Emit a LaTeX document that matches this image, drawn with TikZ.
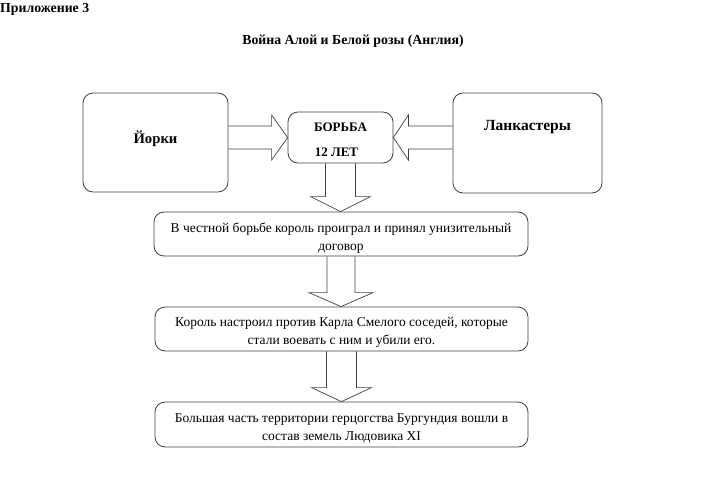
\documentclass[tikz,border=0pt]{standalone}
\usepackage{fontspec}
\setmainfont{Liberation Serif}
\usepackage{tikz}
\usetikzlibrary{calc}

\tikzset{
  box/.style={draw=black!75, line width=0.8pt, rounded corners=10pt, inner sep=0pt},
  blockarr/.style={draw=black!75, line width=0.7pt},
  txt/.style={align=center, font=\fontsize{13.5}{18}\selectfont},
  head/.style={font=\bfseries\fontsize{13.8}{16}\selectfont},
  big/.style={font=\bfseries\fontsize{15.5}{19}\selectfont}
}

\begin{document}
\begin{tikzpicture}[x=1pt,y=-1pt]
\useasboundingbox (0,0) rectangle (704,490);
\node[head, anchor=west, inner sep=0pt] (appx) at (0,9) {Приложение 3};
\node[head] (title) at (353,41) {Война Алой и Белой розы (Англия)};
\node[box, minimum width=145pt, minimum height=99pt] (yorki) at (155.5,142.5) {};
\node[box, minimum width=105pt, minimum height=51pt] (borba) at (340.5,137.5) {};
\node[box, minimum width=149pt, minimum height=100pt] (lanc) at (527.5,143) {};
\node[big, font=\bfseries\fontsize{14.7}{18}\selectfont] (yorkitxt) at (155.5,139) {Йорки};
\node[big] (lanctxt) at (527.5,127) {Ланкастеры};
\node[font=\bfseries\fontsize{13}{15}\selectfont] (borbatxt) at (340.5,127) {БОРЬБА};
\begin{scope}
\clip (290,140) rectangle (391,156.5);
\node[font=\bfseries\fontsize{13}{15}\selectfont] (yearstxt) at (336.5,152.5) {12 ЛЕТ};
\end{scope}
\node[box, minimum width=374pt, minimum height=44pt] (stepa) at (341,234) {};
\node[box, minimum width=373pt, minimum height=44pt] (stepb) at (341.5,329) {};
\node[box, minimum width=373pt, minimum height=45pt] (stepc) at (341.5,424.5) {};
\node[txt] (stepatxt) at (341,238) {В честной борьбе король проиграл и принял унизительный\\договор};
\node[txt] (stepbtxt) at (341.5,332.5) {Король настроил против Карла Смелого соседей, которые\\стали воевать с ним и убили его.};
\node[txt] (stepctxt) at (341.5,428) {Большая часть территории герцогства Бургундия вошли в\\состав земель Людовика XI};
\draw[blockarr] let \p1=(yorki.east), \p2=(borba.west) in
  (\x1,\y2+11.5) -- (\x2-16,\y2+11.5) -- (\x2-16,\y2+22.5) -- (\x2,\y2)
  -- (\x2-16,\y2-22.5) -- (\x2-16,\y2-11.5) -- (\x1,\y2-11.5);
\draw[blockarr] let \p1=(lanc.west), \p2=(borba.east) in
  (\x1,\y2+11.5) -- (\x2+15,\y2+11.5) -- (\x2+15,\y2+22.5) -- (\x2,\y2)
  -- (\x2+15,\y2-22.5) -- (\x2+15,\y2-11.5) -- (\x1,\y2-11.5);
\draw[blockarr] let \p1=(borba.south), \p2=(stepa.north) in
  (\x1-15,\y1) -- (\x1-15,\y2+15) -- (\x1-30,\y2+15) -- (\x1,\y2)
  -- (\x1+30,\y2+15) -- (\x1+15,\y2+15) -- (\x1+15,\y1);
\draw[blockarr] let \p1=(stepa.south), \p2=(stepb.north) in
  (\x1-14,\y1) -- (\x1-14,\y2+14) -- (\x1-32,\y2+14) -- (\x1,\y2)
  -- (\x1+32,\y2+14) -- (\x1+14,\y2+14) -- (\x1+14,\y1);
\draw[blockarr] let \p1=(stepb.south), \p2=(stepc.north) in
  (\x1-15,\y1) -- (\x1-15,\y2+14) -- (\x1-30,\y2+14) -- (\x1,\y2)
  -- (\x1+30,\y2+14) -- (\x1+15,\y2+14) -- (\x1+15,\y1);
\end{tikzpicture}
\end{document}
